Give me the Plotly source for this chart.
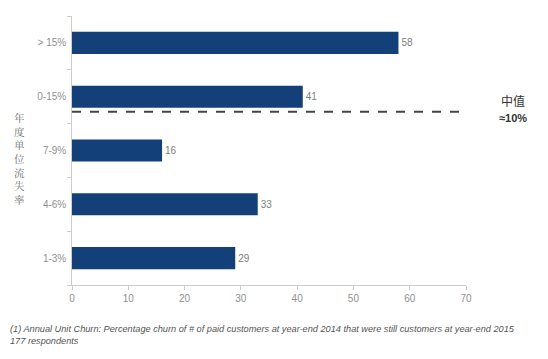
import plotly.graph_objects as go

categories = ["1-3%", "4-6%", "7-9%", "0-15%", "> 15%"]
values = [29, 33, 16, 41, 58]
x_ticks = [0, 10, 20, 30, 40, 50, 60, 70]
median_pos = 2.72
y_title = "年度单位流失率"

fig = go.Figure()
fig.add_trace(go.Bar(
    y=categories, x=values, orientation="h",
    marker=dict(color="#14407A", line=dict(width=0)),
    width=0.41,
    text=[str(v) for v in values], textposition="outside",
    textfont=dict(color="#808080", size=10, family="Liberation Sans"),
    cliponaxis=False,
))

fig.add_shape(type="line", xref="x", yref="y", x0=0, x1=70.7, y0=median_pos, y1=median_pos,
              line=dict(color="#444444", width=2, dash="dash"))

fig.add_annotation(text="中值", xref="paper", yref="paper", x=1.119, y=0.685, showarrow=False,
                   font=dict(size=12, color="#333333", family="Noto Sans CJK SC"),
                   xanchor="center", yanchor="middle")
fig.add_annotation(text="<b>≈10%</b>", xref="paper", yref="paper", x=1.119, y=0.62, showarrow=False,
                   font=dict(size=11, color="#333333", family="Liberation Sans"),
                   xanchor="center", yanchor="middle")
fig.add_annotation(text="<br>".join(y_title), xref="paper", yref="paper",
                   x=-0.132, y=0.47, showarrow=False, xanchor="center", yanchor="middle",
                   align="center",
                   font=dict(size=10.5, color="#707070", family="Noto Serif CJK SC, Noto Sans CJK SC"))
fig.add_annotation(text="<i>(1) Annual Unit Churn: Percentage churn of # of paid customers at year-end 2014 that were still customers at year-end 2015<br>177 respondents</i>",
                   xref="paper", yref="paper", x=-0.162, y=-0.1375, showarrow=False, xanchor="left", yanchor="top",
                   align="left", font=dict(size=9.2, color="#555555", family="Liberation Sans"))

fig.update_layout(
    width=540, height=351,
    margin=dict(l=64, r=82, t=8, b=74),
    paper_bgcolor="white", plot_bgcolor="white",
    showlegend=False,
    xaxis=dict(range=[0, 70], tickvals=x_ticks, showgrid=False, zeroline=False,
               showline=True, linecolor="#CCCCCC", linewidth=1,
               ticks="outside", ticklen=4, tickcolor="#CCCCCC",
               tickfont=dict(size=10, color="#909090", family="Liberation Sans")),
    yaxis=dict(type="category", categoryorder="array", categoryarray=categories,
               range=[-0.5, 4.5], showgrid=False, zeroline=False,
               showline=True, linecolor="#CCCCCC", linewidth=1,
               ticks="outside", ticklen=4, tickcolor="#CCCCCC", tickson="boundaries",
               tickfont=dict(size=10, color="#909090", family="Liberation Sans"), ticksuffix=" "),
)

fig.write_html("out.html")
